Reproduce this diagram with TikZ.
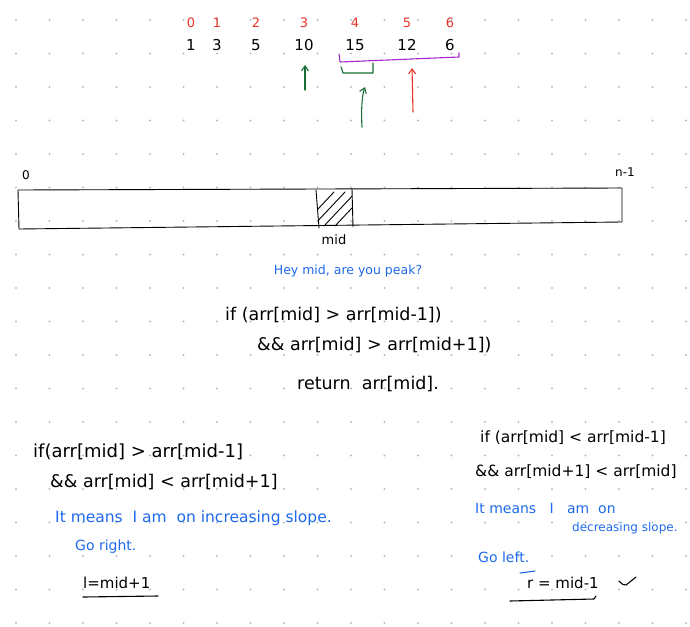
\documentclass[tikz,border=0pt]{standalone}
\usepackage{fontspec}
\setmainfont{DejaVu Sans}
\usetikzlibrary{arrows.meta}

\definecolor{inkred}{RGB}{232,52,40}
\definecolor{inkgreen}{RGB}{24,110,52}
\definecolor{inkpurple}{RGB}{165,40,205}
\definecolor{inkblue}{RGB}{30,105,235}
\definecolor{griddot}{RGB}{175,190,215}

\begin{document}
\begin{tikzpicture}[x=1pt,y=-1pt,
  idx/.style={text=inkred, font=\fontsize{13}{15}\selectfont},
  val/.style={font=\fontsize{15}{18}\selectfont},
  code/.style={anchor=west, inner sep=0pt, font=\fontsize{17.5}{20}\selectfont},
  note/.style={anchor=west, inner sep=0pt, text=inkblue, font=\fontsize{14}{16}\selectfont},
  pen/.style={line width=1.1pt, line cap=round, line join=round},
  tip/.style={-{Straight Barb[length=5pt,width=7pt]}}]
\useasboundingbox (0,0) rectangle (690,626);

% dot grid
\foreach \i in {0,...,20}
  \foreach \j in {0,...,18}
    \fill[griddot] (16+33.5*\i,20+33.5*\j) circle (1.1);

% the array with its indices
\foreach \k/\x/\v in {0/191/1, 1/217/3, 2/256/5, 3/304/10, 4/355/15, 5/407/12, 6/450/6} {
  \node[idx] (i\k) at (\x,23) {\k};
  \node[val] (v\k) at (\x,45) {\v};
}
\draw[pen, inkpurple] (339,54) -- (340,62) -- (459,57) -- (459,53);
\draw[pen, inkgreen] (341,67) -- (343,73) -- (373,73) -- (373,63);

\coordinate (gfoot) at (305,90);
\coordinate (ghead) at (305,65);
\coordinate (hfoot) at (362,127);
\coordinate (hhead) at (365,87);
\coordinate (rfoot) at (413,112);
\coordinate (rhead) at (412,68);
\draw[pen, tip, inkgreen] (gfoot) -- (ghead);
\draw[pen, tip, inkgreen] (hfoot) .. controls (361,110) and (362,95) .. (hhead);
\draw[pen, tip, inkred] (rfoot) -- (rhead);

% the search range
\draw[pen, line width=0.9pt] (18,190) -- (622,188) -- (622,222) -- (19,229) -- cycle;
\draw[pen, line width=0.9pt] (316,190) -- (319,228);
\draw[pen, line width=0.9pt] (352,189) -- (353,227);
\begin{scope}
  \clip (316,190) -- (352,189) -- (353,227) -- (319,228) -- cycle;
  \foreach \s in {0,11,22,33}
    \draw[pen, line width=0.9pt] (302+\s,226) -- (334+\s,192);
\end{scope}
\node[font=\fontsize{12}{14}\selectfont] (zero) at (26,175) {0};
\node[font=\fontsize{12}{14}\selectfont] (last) at (625,172) {n-1};
\node[font=\fontsize{13}{15}\selectfont] (midlbl) at (334,240) {mid};

% peak check
\node[note, anchor=center, font=\fontsize{12.5}{14}\selectfont] (hey) at (348,271) {Hey mid, are you peak?};
\node[code] (peaka) at (225,315) {if (arr[mid] > arr[mid-1])};
\node[code] (peakb) at (257,345) {\&\& arr[mid] > arr[mid+1])};
\node[code] (peakc) at (297,384) {return\ \ arr[mid].};

% increasing slope
\node[code, font=\fontsize{18}{20}\selectfont] (inca) at (33,452) {if(arr[mid] > arr[mid-1]};
\node[code] (incb) at (50,482) {\&\& arr[mid] < arr[mid+1]};
\node[note, font=\fontsize{15.5}{18}\selectfont] (incc) at (55,518) {It means\ \ I am\ \ on increasing slope.};
\node[note] (incd) at (75,547) {Go right.};
\node[code, font=\fontsize{15}{18}\selectfont] (ince) at (83,583) {l=mid+1};
\draw[pen] (83,597) -- (158,596);

% decreasing slope
\node[code, font=\fontsize{15.5}{18}\selectfont] (deca) at (480,438) {if (arr[mid] < arr[mid-1]};
\node[code, font=\fontsize{15.5}{18}\selectfont] (decb) at (475,472) {\&\& arr[mid+1] < arr[mid]};
\node[note] (decc) at (475,508) {It means\ \ \ I\ \ \ am\ \ on};
\node[note, font=\fontsize{12}{14}\selectfont] (decd) at (572,528) {decreasing slope.};
\node[note] (dece) at (478,557) {Go left.};
\draw[pen, inkblue] (520,573) -- (535,571);
\node[code, font=\fontsize{15}{18}\selectfont] (decf) at (527,583) {r = mid-1};
\draw[pen] (510,601) -- (594,599) -- (596,596);
\draw[pen] (619,581) .. controls (622,584) and (624,586) .. (626,585) -- (636,577);
\end{tikzpicture}
\end{document}
